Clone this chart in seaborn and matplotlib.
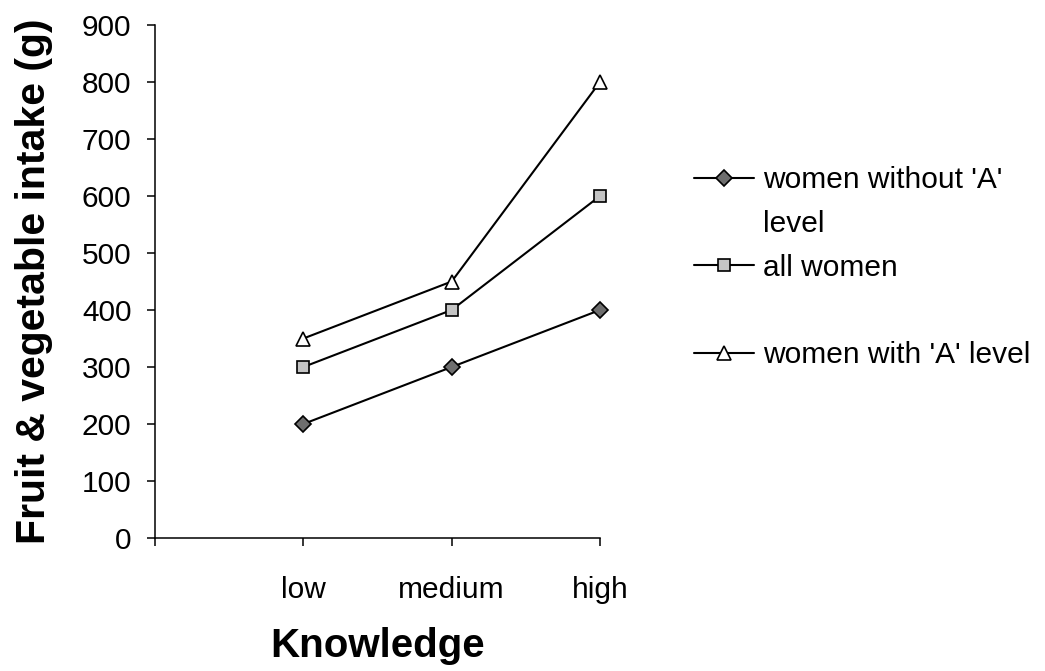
import matplotlib
matplotlib.use("Agg")
import matplotlib.pyplot as plt
import seaborn as sns
from matplotlib.lines import Line2D

# Data
categories = ["low", "medium", "high"]
without_a_level = [200, 300, 400]
all_women = [300, 400, 600]
with_a_level = [350, 450, 800]
series_names = ["women without 'A' level", "all women", "women with 'A' level"]

sns.set_style("ticks")
plt.rcParams["font.family"] = ["Liberation Sans", "DejaVu Sans"]
plt.rcParams["text.color"] = "black"
plt.rcParams["axes.labelcolor"] = "black"

fig = plt.figure(figsize=(10.45, 6.71), dpi=100)
ax = fig.add_axes([155 / 1045, 1 - 538 / 671, 445 / 1045, 513 / 671])

x = list(range(1, len(categories) + 1))

styles = [
    (without_a_level, "D", "#6e6e6e", 8.5),
    (all_women, "s", "#c4c4c4", 9),
    (with_a_level, "^", "white", 10),
]
for vals, mk, face, ms in styles:
    sns.lineplot(x=x, y=vals, ax=ax, color="black", linewidth=1.5,
                 marker=mk, markersize=ms, markerfacecolor=face,
                 markeredgecolor="black", markeredgewidth=1.2, legend=False,
                 clip_on=False, zorder=3)

ax.set_xlim(0, 3)
ax.set_ylim(0, 900)
ax.set_yticks(range(0, 901, 100))
ax.set_xticks([0] + x)
ax.set_xticklabels([""] + categories)

for sp in ["top", "right"]:
    ax.spines[sp].set_visible(False)
for sp in ["left", "bottom"]:
    ax.spines[sp].set_color("black")
    ax.spines[sp].set_linewidth(1.1)

ax.tick_params(axis="both", direction="out", length=6, width=1.1,
               colors="black", labelsize=21.5)
ax.tick_params(axis="y", pad=11)
ax.tick_params(axis="x", pad=21)

ax.set_xlabel("Knowledge", fontsize=29, fontweight="bold", labelpad=17)
ax.set_ylabel("Fruit & vegetable intake (g)", fontsize=29.5,
              fontweight="bold", labelpad=21)

# Legend: first label wraps onto a second line, like the original
lines = ax.lines
blank = Line2D([], [], color="none")
handles = [lines[0], blank, lines[1], blank, lines[2]]
labels = ["women without 'A'", "level", "all women", "", "women with 'A' level"]
ax.legend(handles, labels, loc="upper left",
          bbox_to_anchor=(694 / 1045, 1 - 166 / 671),
          bbox_transform=fig.transFigure, frameon=False, fontsize=21.5,
          handlelength=2.0, handletextpad=0.3, labelspacing=0.53,
          borderpad=0, borderaxespad=0)

fig.savefig("out.png", dpi=100)
